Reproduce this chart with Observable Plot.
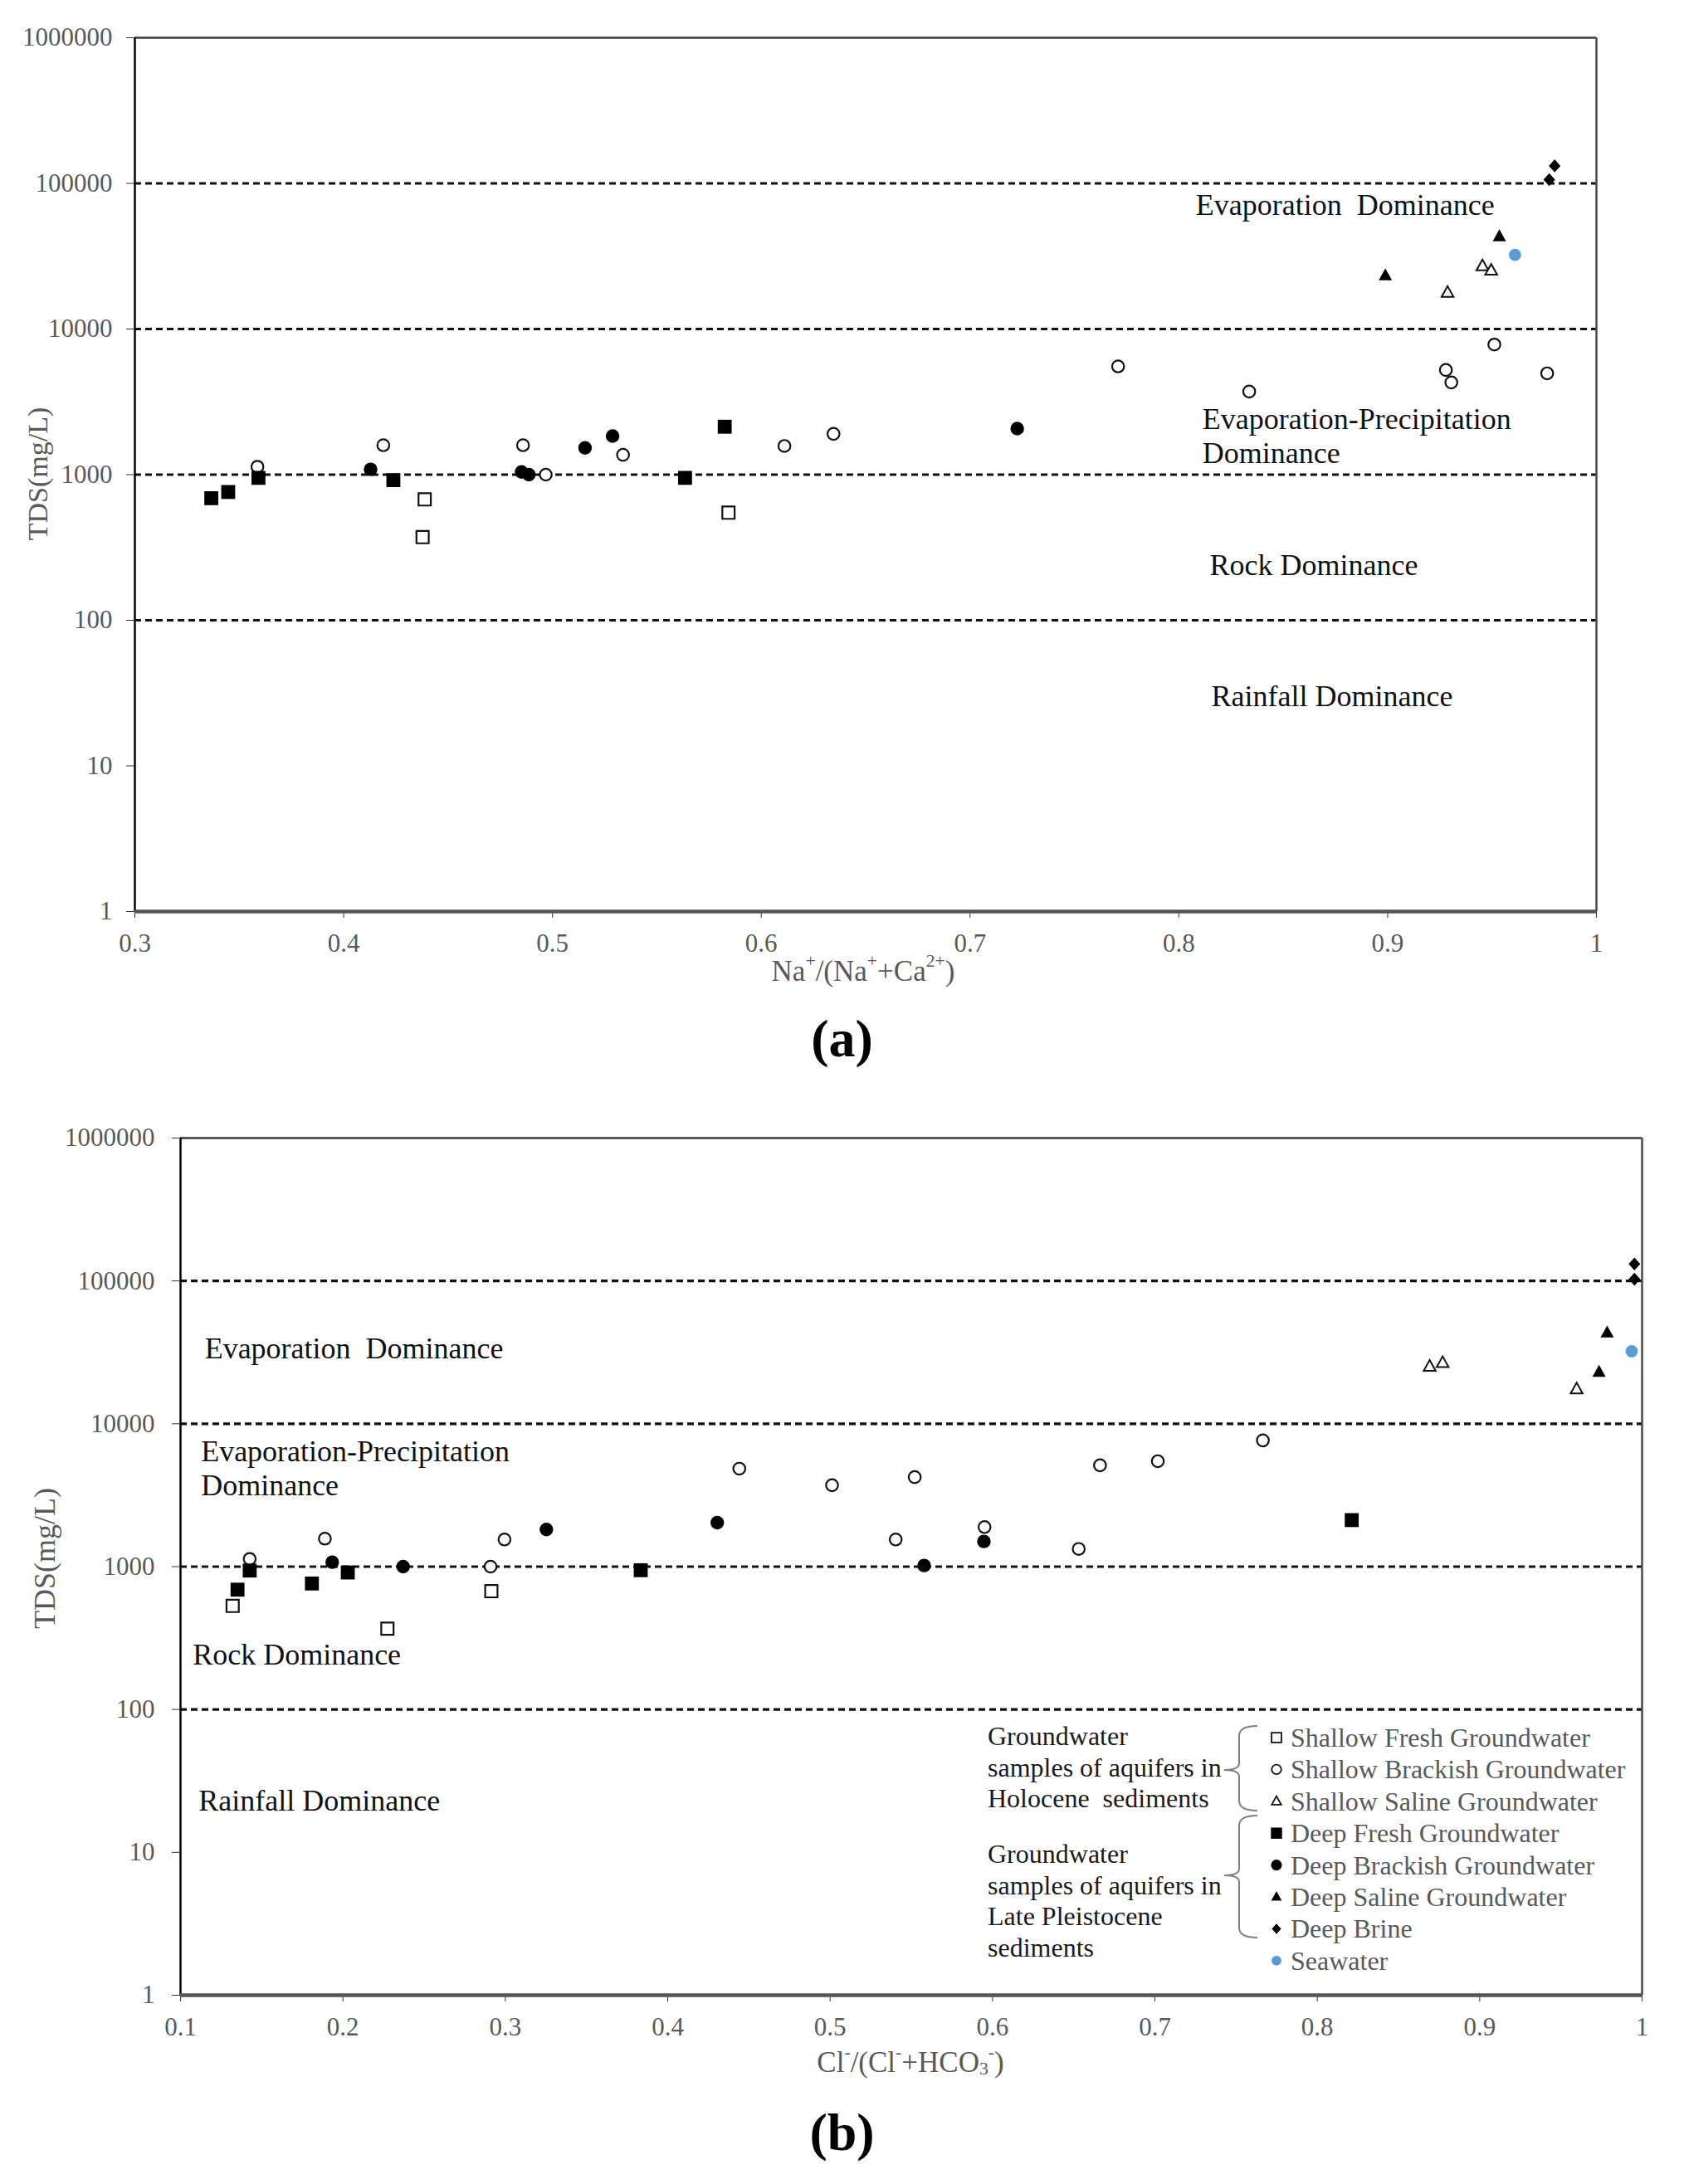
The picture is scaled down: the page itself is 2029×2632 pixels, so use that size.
<!DOCTYPE html>
<html>
<head>
<meta charset="utf-8">
<script src="https://cdn.jsdelivr.net/npm/d3@7"></script>
<script src="https://cdn.jsdelivr.net/npm/@observablehq/plot@0.6"></script>
<style>
html, body { margin: 0; padding: 0; background: #fff; }
#wrap { position: relative; width: 2029px; height: 2632px; overflow: hidden; font-family: "Liberation Serif", "Times New Roman", serif; }
.panel { position: absolute; left: 0; }
.tag { position: absolute; left: 0; width: 2029px; text-align: center; font-weight: bold; font-size: 64px; line-height: 80px; color: #000; font-family: "Liberation Serif", serif; }
</style>
</head>
<body>
<div id="wrap"></div>
<script>
// ---------- shared ticks / categories ----------
const yTicks = [1, 10, 100, 1000, 10000, 100000, 1000000];
const boundaries = [100, 1000, 10000, 100000];
const aXTicks = [0.3, 0.4, 0.5, 0.6, 0.7, 0.8, 0.9, 1];
const bXTicks = [0.1, 0.2, 0.3, 0.4, 0.5, 0.6, 0.7, 0.8, 0.9, 1];
const seriesNames = [
  "Shallow Fresh Groundwater",
  "Shallow Brackish Groundwater",
  "Shallow Saline Groundwater",
  "Deep Fresh Groundwater",
  "Deep Brackish Groundwater",
  "Deep Saline Groundwater",
  "Deep Brine",
  "Seawater"
];
const groupLabels = [
  "Groundwater\nsamples of aquifers in\nHolocene  sediments",
  "Groundwater\nsamples of aquifers in\nLate Pleistocene\nsediments"
];
const regionLabels = ["Evaporation  Dominance", "Evaporation-Precipitation\nDominance", "Rock Dominance", "Rainfall Dominance"];

// ---------- panel (a): [Na+/(Na++Ca2+), TDS mg/L] ----------
const aShallowFresh = [[0.4378, 372], [0.4388, 676], [0.5843, 548]];
const aShallowBrackish = [[0.3587, 1133], [0.4190, 1592], [0.4859, 1592], [0.4968, 1000], [0.5338, 1367], [0.6111, 1573], [0.6346, 1905], [0.7709, 5540], [0.8337, 3720], [0.9279, 5230], [0.9305, 4300], [0.9511, 7820], [0.9764, 4960]];
const aShallowSaline = [[0.9287, 17780], [0.9454, 27100], [0.9496, 25240]];
const aDeepFresh = [[0.3366, 689], [0.3447, 760], [0.3592, 950], [0.4238, 917], [0.5635, 950], [0.5825, 2133]];
const aDeepBrackish = [[0.4129, 1087], [0.4852, 1043], [0.4887, 1000], [0.5156, 1528], [0.5288, 1840], [0.7226, 2070]];
const aDeepSaline = [[0.8989, 23300], [0.9535, 43200]];
const aDeepBrine = [[0.9774, 106100], [0.9800, 131900]];
const aSeawater = [[0.9610, 32300]];
const aLabelX = [0.8081, 0.8113, 0.8148, 0.8156];
const aLabelY = [72100, 1867, 243, 30.5];

// ---------- panel (b): [Cl-/(Cl-+HCO3-), TDS mg/L] ----------
const bShallowFresh = [[0.1321, 531], [0.2274, 368], [0.2914, 673]];
const bShallowBrackish = [[0.1426, 1132], [0.1889, 1570], [0.2909, 1000], [0.2995, 1549], [0.4441, 4850], [0.5012, 3716], [0.5404, 1549], [0.5521, 4230], [0.5951, 1893], [0.6531, 1330], [0.6662, 5120], [0.7018, 5470], [0.7665, 7650]];
const bShallowSaline = [[0.8692, 25200], [0.8772, 26700], [0.9597, 17470]];
const bDeepFresh = [[0.1351, 690], [0.1426, 939], [0.1809, 762], [0.2030, 910], [0.3834, 944], [0.8212, 2117]];
const bDeepBrackish = [[0.1934, 1074], [0.2371, 1000], [0.3253, 1818], [0.4305, 2032], [0.5579, 1018], [0.5947, 1501]];
const bDeepSaline = [[0.9735, 23030], [0.9785, 43420]];
const bDeepBrine = [[0.9953, 102800], [0.9953, 131300]];
const bSeawater = [[0.9936, 32200]];
const bLabelX = [0.1149, 0.1126, 0.1075, 0.1111];
const bLabelY = [34270, 4950, 245, 23.5];

// ---------- symbols ----------
const symSquare = {draw(c, s) { const r = Math.sqrt(s / Math.PI); c.moveTo(-r, -r); c.lineTo(r, -r); c.lineTo(r, r); c.lineTo(-r, r); c.closePath(); }};
const symTri = {draw(c, s) { const r = Math.sqrt(s / Math.PI); const h = r * 1.8; c.moveTo(0, -h * 0.6); c.lineTo(r, h * 0.4); c.lineTo(-r, h * 0.4); c.closePath(); }};
const symDia = {draw(c, s) { const r = Math.sqrt(s / Math.PI); c.moveTo(0, -r); c.lineTo(r * 0.9, 0); c.lineTo(0, r); c.lineTo(-r * 0.9, 0); c.closePath(); }};
const symCirc = {draw(c, s) { const r = Math.sqrt(s / Math.PI); c.moveTo(r, 0); c.arc(0, 0, r, 0, 2 * Math.PI); c.closePath(); }};

const seriesStyles = [
  {symbol: symSquare, r: 7.4, fill: "#fff", stroke: "#111", strokeWidth: 2.2},
  {symbol: symCirc, r: 7.2, fill: "#fff", stroke: "#111", strokeWidth: 2.2},
  {symbol: symTri, r: 7.2, fill: "#fff", stroke: "#111", strokeWidth: 2},
  {symbol: symSquare, r: 8.4, fill: "#000", stroke: "none"},
  {symbol: symCirc, r: 8.2, fill: "#000", stroke: "none"},
  {symbol: symTri, r: 8.0, fill: "#000", stroke: "none"},
  {symbol: symDia, r: 7.8, fill: "#000", stroke: "none"},
  {symbol: symCirc, r: 7.4, fill: "#5b9bd5", stroke: "none"}
];

const fmtX = d => (Math.abs(d - 1) < 1e-9 ? "1" : d.toFixed(1));

function makePanel(cfg) {
  const marks = [
    Plot.ruleY(boundaries, {stroke: "#111", strokeWidth: 3.2, strokeDasharray: "8,5"}),
    Plot.ruleY([1e6], {stroke: "#3a3a3a", strokeWidth: 2.5}),
    Plot.ruleX([cfg.xDomain[1]], {stroke: "#4a4a4a", strokeWidth: 2.5}),
    Plot.ruleX([cfg.xDomain[0]], {stroke: "#000", strokeWidth: 2.5}),
    Plot.axisX({ticks: cfg.xTicks, tickFormat: fmtX, tickSize: 8, tickPadding: 18, fontSize: 31, fill: "#595959", stroke: "#333", label: null}),
    Plot.axisY({ticks: yTicks, tickFormat: d => String(d), tickSize: 10, tickPadding: cfg.yPad, fontSize: 31, fill: "#595959", stroke: "#333", label: null}),
    Plot.ruleY([1], {stroke: "#555", strokeWidth: 4.5}),
    Plot.text(regionLabels, {
      x: (d, i) => cfg.labelX[i], y: (d, i) => cfg.labelY[i], text: d => d,
      textAnchor: "start", lineAnchor: "middle", fontSize: 36, fill: "#111", lineHeight: 1.14
    })
  ];
  cfg.series.forEach((data, i) => {
    marks.push(Plot.dot(data, {x: d => d[0], y: d => d[1], ...seriesStyles[i]}));
  });
  return Plot.plot({
    width: 2029, height: cfg.height,
    marginLeft: cfg.ml, marginRight: cfg.mr, marginTop: cfg.mt, marginBottom: cfg.mb,
    style: {fontFamily: "Liberation Serif, Times New Roman, serif", background: "transparent"},
    x: {domain: cfg.xDomain, label: null},
    y: {type: "log", domain: [1, 1e6], label: null},
    marks
  });
}

function addRich(svg, x, y, parts, size, fill, rotate) {
  const t = d3.select(svg).append("text")
    .attr("x", x).attr("y", y)
    .attr("text-anchor", "middle").attr("dominant-baseline", "central")
    .attr("font-family", "Liberation Serif, serif").attr("font-size", size).attr("fill", fill);
  if (rotate) t.attr("transform", `rotate(-90 ${x} ${y})`);
  let shift = 0;
  parts.forEach(([txt, kind]) => {
    const target = kind === "sup" ? -12 : kind === "sub" ? 8 : 0;
    t.append("tspan").attr("dy", target - shift).attr("font-size", kind ? size * 0.62 : size).text(txt);
    shift = target;
  });
}

const wrap = document.getElementById("wrap");

// ---------- panel (a) ----------
const svgA = makePanel({
  xDomain: [0.3, 1], xTicks: aXTicks, height: 1200, ml: 162, mr: 106, mt: 45, mb: 102, yPad: 17,
  labelX: aLabelX, labelY: aLabelY,
  series: [aShallowFresh, aShallowBrackish, aShallowSaline, aDeepFresh, aDeepBrackish, aDeepSaline, aDeepBrine, aSeawater]
});
svgA.classList.add("panel");
svgA.style.top = "0px";
wrap.appendChild(svgA);
addRich(svgA, 1040, 1170, [["Na"], ["+", "sup"], ["/(Na", null], ["+", "sup"], ["+Ca", null], ["2+", "sup"], [")", null]], 35, "#595959");
addRich(svgA, 45, 571, [["TDS(mg/L)"]], 34, "#595959", true);

// ---------- panel (b) ----------
const topB = 1300;
const svgB = makePanel({
  xDomain: [0.1, 1], xTicks: bXTicks, height: 1230, ml: 217, mr: 51, mt: 71, mb: 126, yPad: 21,
  labelX: bLabelX, labelY: bLabelY,
  series: [bShallowFresh, bShallowBrackish, bShallowSaline, bDeepFresh, bDeepBrackish, bDeepSaline, bDeepBrine, bSeawater]
});
svgB.classList.add("panel");
svgB.style.top = topB + "px";
wrap.appendChild(svgB);
addRich(svgB, 1097, 2485 - topB, [["Cl"], ["-", "sup"], ["/(Cl", null], ["-", "sup"], ["+HCO", null], ["3", "sub"], ["-", "sup"], [")", null]], 35, "#595959");
addRich(svgB, 54, 1878 - topB, [["TDS(mg/L)"]], 36, "#595959", true);

// ---------- legend inside panel (b) ----------
const lg = d3.select(svgB).append("g").attr("font-family", "Liberation Serif, serif").attr("text-anchor", "start");
const itemY0 = 2094 - topB, itemStep = 38.4;
seriesNames.forEach((name, i) => {
  const st = seriesStyles[i];
  const rr = st.r * 0.8;
  lg.append("path")
    .attr("transform", `translate(1538,${itemY0 + i * itemStep})`)
    .attr("d", d3.symbol().type(st.symbol).size(rr * rr * Math.PI)())
    .attr("fill", st.fill).attr("stroke", st.stroke).attr("stroke-width", st.strokeWidth ? 1.8 : 0);
  lg.append("text").attr("x", 1555).attr("y", itemY0 + i * itemStep)
    .attr("text-anchor", "start")
    .attr("dominant-baseline", "central").attr("font-size", 32).attr("fill", "#595959").text(name);
});
const groupTops = [792 , 934];
groupLabels.forEach((g, gi) => {
  g.split("\n").forEach((line, li) => {
    lg.append("text").attr("x", 1190).attr("y", groupTops[gi] + li * 37.6)
      .attr("text-anchor", "start")
      .attr("dominant-baseline", "central").attr("font-size", 32).attr("fill", "#1a1a1a")
      .style("white-space", "pre").text(line);
  });
});
function brace(top, tip, bottom) {
  const xv = 1493, xh = 1515, xt = 1475;
  return `M${xh},${top} Q${xv},${top} ${xv},${top + 12} L${xv},${tip - 8} Q${xv},${tip} ${xt},${tip} Q${xv},${tip} ${xv},${tip + 8} L${xv},${bottom - 12} Q${xv},${bottom} ${xh},${bottom}`;
}
lg.append("path").attr("d", brace(2080 - topB, 2133 - topB, 2182 - topB)).attr("fill", "none").attr("stroke", "#808080").attr("stroke-width", 2);
lg.append("path").attr("d", brace(2188 - topB, 2260 - topB, 2335 - topB)).attr("fill", "none").attr("stroke", "#808080").attr("stroke-width", 2);

// ---------- panel tags ----------
const tagA = document.createElement("div"); tagA.className = "tag"; tagA.style.top = "1212px"; tagA.textContent = "(a)"; wrap.appendChild(tagA);
const tagB = document.createElement("div"); tagB.className = "tag"; tagB.style.top = "2530px"; tagB.textContent = "(b)"; wrap.appendChild(tagB);
</script>
</body>
</html>
